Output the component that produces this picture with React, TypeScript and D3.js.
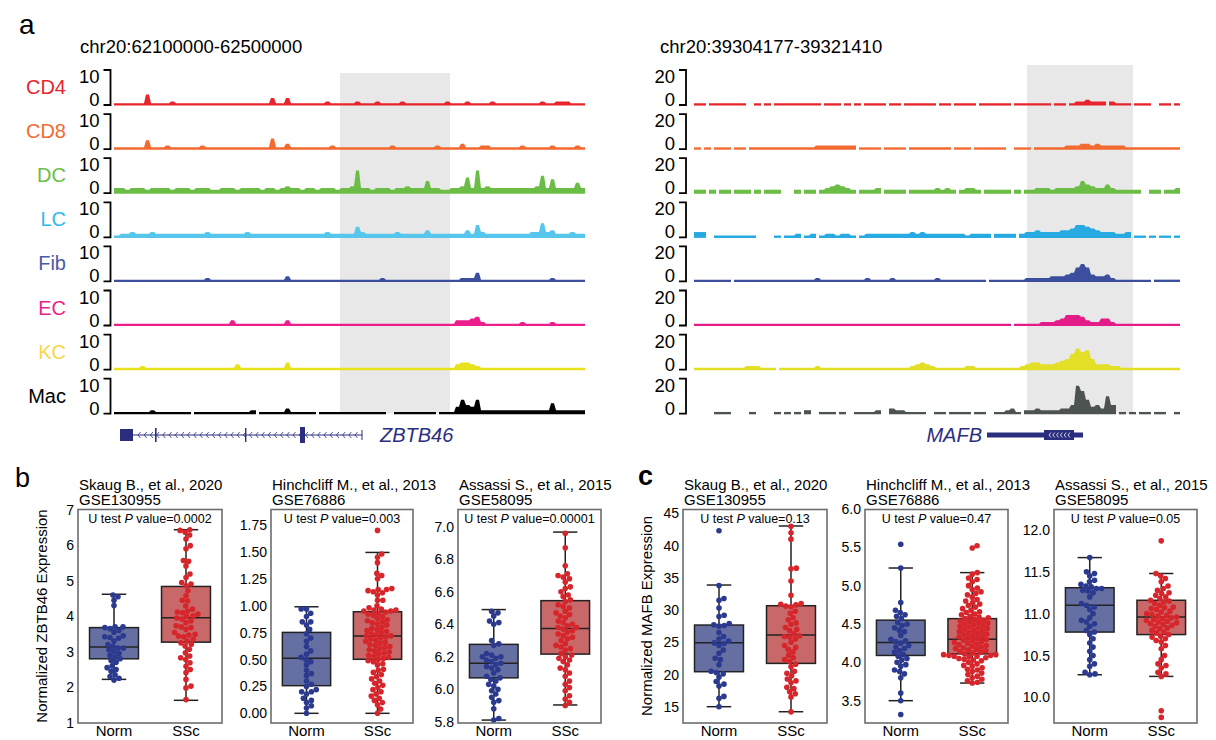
import * as d3 from 'd3';
import React from 'react';

const FONT = '"Liberation Sans", Arial, sans-serif';
const NAVY = '#2b2e7f';

// ---------- panel a : coverage tracks ----------
const cellTypes = ['CD4', 'CD8', 'DC', 'LC', 'Fib', 'EC', 'KC', 'Mac'];
const labelColors = ['#e8242c', '#f26a30', '#6cbd45', '#2fb8ea', '#4b5aa8', '#ec1e8c', '#f7d748', '#000000'];
const zbtbColors = ['#e8242c', '#f26a30', '#6cbd45', '#56c6ec', '#3c4f9e', '#ec1e8c', '#e8e21e', '#000000'];
const mafbColors = ['#e8242c', '#f26a30', '#6cbd45', '#27aae1', '#3b4f9e', '#e31c8a', '#e3de26', '#4d5351'];

// one char per bin, level 0..20 of the track max (base 36), space = no data
const zbtbTracks = [
  '1111116111' + '1211111111' + '1111111111' + '1411411111' + '1121111121' + '1121111211' + '1111112111' + '2111121111' + '1111121122' + '2111',
  '1111115111' + '2111111211' + '1111111111' + '1611311111' + '1112111111' + '1111121111' + '1111211113' + '1112211111' + '1211111211' + '1121',
  '3323332333' + '3233323332' + '2333233332' + '3323433233' + '23332334d3' + '3233323343' + '3373322334' + '93d3433333' + '33334a3833' + '3363',
  '1223222322' + '2222222232' + '2222223222' + '2222222222' + '2232222263' + '2222223222' + '2242222222' + '4273222222' + '2223383422' + '2322',
  '1111111111' + '1111111121' + '1111111111' + '1111311111' + '1111111111' + '1112111111' + '1111111112' + '2251111111' + '1111111211' + '1111',
  '1111111111' + '1111111111' + '1113111111' + '1111311111' + '1111111111' + '1111111111' + '1111111133' + '3452111111' + '1211111211' + '1111',
  '1111121111' + '1111111111' + '1111311111' + '1111411111' + '1111111111' + '1111111111' + '1111111134' + '4321111111' + '1111111111' + '1111',
  '1111111211' + '11111 1111' + '11111112 1' + '1111311111' + ' 111111111' + '1111  1111' + '1111 11148' + '5482222222' + '2222222622' + '2222',
];
const mafbTracks = [
  '11 1111111' + '  1 1 1111' + '11111 111 ' + '1 1 1111 1' + '1 111111 1' + '1 1111 111' + '111 111111' + '1 11 12232' + '22 2111 11' + '1  11 1',
  '1 1 111 11' + ' 111111111' + '1111222222' + '22 1111 11' + '11 1111111' + '1 111 1111' + '11  111 11' + '1111222332' + '3222221111' + '1111111',
  '22 2 22 22' + '2 2 222   ' + '2 22 23454' + '32 2223 22' + '22 2222232' + '32 2332 22' + '222 2 2233' + '3233334754' + '335322222 ' + ' 22 223',
  '33  111111' + '11    1 11' + '2 12 12212' + '21 1222222' + '2223232222' + '222212222 ' + '2222 23343' + '3334457765' + '4333223 11' + ' 1 11 1',
  '1111111 11' + '1111111111' + '1111211111' + '1111211112' + '1111111121' + '11111111 1' + '1111112222' + '2333458a84' + '3342111111' + '1 11111',
  '1111111111' + '1111111111' + '1111111111' + '1111111111' + '1111111111' + '1111111111' + '111 111112' + '2234666532' + '2442111111' + '1111111',
  '1111111111' + '222111 111' + '1111211111' + '1111111111' + '1112343211' + '1111221111' + '1111123443' + '334569cab6' + '3332211111' + '1111111',
  '    111   ' + ' 1    1 1 ' + '1 2  111 1' + '  11112  3' + '221111  11' + ' 1111 11  ' + '11231 2232' + '222335gd84' + '53a5 1 1 1' + '1 11  1',
];
const zbtbMax = '10';
const mafbMax = '20';

// ---------- panels b, c : box plots ----------
const groups = ['Norm', 'SSc'];

const skaugZNorm = [4.6, 4.55, 4.45, 4.3, 3.7, 3.7, 3.68, 3.65, 3.6, 3.55, 3.45, 3.42, 3.4, 3.38, 3.3, 3.2, 3.15, 3.1, 3.1, 3.05, 3.0, 2.95, 2.9, 2.85, 2.8, 2.75, 2.7, 2.6, 2.55, 2.5, 2.45, 2.35, 2.3, 2.25, 2.2];
const skaugZSsc = [6.44, 6.42, 6.37, 6.29, 6.18, 5.99, 5.9, 5.57, 5.55, 5.42, 5.19, 5.09, 4.95, 4.91, 4.86, 4.72, 4.58, 4.45, 4.43, 4.29, 4.2, 4.15, 4.12, 4.1, 4.06, 4.01, 4.0, 3.95, 3.92, 3.87, 3.82, 3.73, 3.7, 3.68, 3.63, 3.54, 3.49, 3.47, 3.44, 3.42, 3.35, 3.3, 3.25, 3.21, 3.16, 3.07, 2.97, 2.88, 2.83, 2.78, 2.69, 2.59, 2.5, 2.41, 2.22, 2.03, 1.98, 1.65];
const skaugZBox = [[2.22, 2.8, 3.13, 3.68, 4.62], [1.63, 3.27, 3.96, 4.84, 6.44]];

const hinchZNorm = [0.97, 0.97, 0.93, 0.9, 0.85, 0.85, 0.82, 0.78, 0.74, 0.7, 0.67, 0.62, 0.58, 0.55, 0.52, 0.5, 0.48, 0.45, 0.4, 0.37, 0.35, 0.3, 0.27, 0.25, 0.22, 0.2, 0.2, 0.18, 0.14, 0.12, 0.1, 0.07, 0.05, 0.0];
const hinchZSsc = [1.7, 1.48, 1.45, 1.4, 1.3, 1.28, 1.25, 1.16, 1.15, 1.15, 1.14, 1.13, 1.12, 1.1, 1.05, 1.05, 1.0, 0.98, 0.97, 0.96, 0.96, 0.95, 0.95, 0.94, 0.93, 0.92, 0.91, 0.9, 0.88, 0.87, 0.86, 0.85, 0.84, 0.83, 0.82, 0.8, 0.79, 0.78, 0.77, 0.76, 0.75, 0.74, 0.73, 0.72, 0.72, 0.71, 0.7, 0.69, 0.68, 0.67, 0.66, 0.65, 0.64, 0.63, 0.62, 0.61, 0.6, 0.59, 0.58, 0.57, 0.56, 0.55, 0.54, 0.53, 0.52, 0.51, 0.5, 0.49, 0.48, 0.46, 0.45, 0.41, 0.4, 0.38, 0.36, 0.34, 0.32, 0.3, 0.28, 0.26, 0.24, 0.22, 0.2, 0.18, 0.16, 0.14, 0.12, 0.1, 0.08, 0.04, 0.0];
const hinchZBox = [[0.0, 0.257, 0.511, 0.752, 0.99], [0.0, 0.502, 0.718, 0.944, 1.495]];

const assassiZNorm = [6.48, 6.47, 6.45, 6.42, 6.41, 6.4, 6.3, 6.28, 6.27, 6.22, 6.21, 6.2, 6.2, 6.19, 6.18, 6.17, 6.16, 6.15, 6.14, 6.13, 6.12, 6.1, 6.08, 6.07, 6.06, 6.05, 6.03, 6.02, 6.0, 5.99, 5.97, 5.95, 5.93, 5.92, 5.88, 5.82, 5.81];
const assassiZSsc = [6.96, 6.87, 6.76, 6.71, 6.7, 6.69, 6.68, 6.66, 6.63, 6.62, 6.6, 6.58, 6.57, 6.55, 6.54, 6.52, 6.51, 6.5, 6.48, 6.47, 6.46, 6.45, 6.44, 6.42, 6.41, 6.4, 6.39, 6.38, 6.38, 6.37, 6.36, 6.35, 6.34, 6.33, 6.32, 6.31, 6.3, 6.28, 6.27, 6.26, 6.25, 6.24, 6.22, 6.21, 6.2, 6.19, 6.18, 6.17, 6.15, 6.13, 6.12, 6.1, 6.08, 6.05, 6.03, 6.01, 5.99, 5.96, 5.94, 5.92, 5.9];
const assassiZBox = [[5.81, 6.07, 6.16, 6.276, 6.49], [5.903, 6.216, 6.374, 6.545, 6.967]];

const skaugMNorm = [42.3, 33.8, 31.8, 31.5, 30.3, 29.2, 29.0, 27.9, 27.7, 27.6, 27.5, 26.5, 25.9, 25.5, 25.2, 24.9, 24.8, 24.5, 23.8, 23.3, 22.5, 22.3, 21.5, 20.5, 20.3, 20.1, 19.6, 18.9, 18.5, 18.2, 16.6, 16.3, 15.0];
const skaugMSsc = [43.0, 42.0, 41.0, 36.5, 36.4, 34.5, 32.3, 31.0, 30.9, 30.8, 30.6, 30.5, 29.8, 29.5, 28.8, 28.5, 28.0, 27.8, 27.3, 27.0, 26.8, 26.3, 26.0, 25.9, 25.8, 25.5, 25.0, 24.5, 24.2, 23.9, 23.5, 23.0, 22.6, 22.3, 22.0, 21.6, 21.2, 20.5, 20.2, 19.8, 19.3, 19.0, 18.7, 18.0, 17.8, 17.3, 17.0, 16.5, 14.2];
const skaugMBox = [[15.0, 20.43, 24.93, 27.67, 33.88], [14.22, 21.72, 26.12, 30.67, 43.04]];

const hinchMNorm = [5.54, 5.23, 4.78, 4.68, 4.65, 4.62, 4.6, 4.57, 4.52, 4.5, 4.48, 4.45, 4.42, 4.4, 4.35, 4.3, 4.28, 4.27, 4.25, 4.22, 4.2, 4.18, 4.15, 4.13, 4.1, 4.08, 4.05, 4.03, 4.0, 3.97, 3.95, 3.9, 3.88, 3.85, 3.8, 3.6, 3.5, 3.32];
const hinchMSsc = [5.52, 5.49, 5.17, 5.15, 5.1, 5.08, 5.05, 5.0, 4.97, 4.95, 4.92, 4.9, 4.88, 4.85, 4.82, 4.8, 4.78, 4.76, 4.74, 4.72, 4.7, 4.68, 4.66, 4.65, 4.63, 4.62, 4.6, 4.59, 4.58, 4.57, 4.56, 4.55, 4.54, 4.53, 4.52, 4.51, 4.5, 4.49, 4.48, 4.47, 4.46, 4.45, 4.44, 4.43, 4.42, 4.41, 4.4, 4.39, 4.38, 4.37, 4.36, 4.35, 4.34, 4.33, 4.32, 4.31, 4.3, 4.29, 4.28, 4.27, 4.26, 4.25, 4.24, 4.23, 4.22, 4.21, 4.2, 4.19, 4.18, 4.17, 4.16, 4.15, 4.14, 4.13, 4.12, 4.11, 4.1, 4.1, 4.09, 4.09, 4.08, 4.08, 4.07, 4.06, 4.05, 4.04, 4.03, 4.02, 4.0, 3.98, 3.96, 3.95, 3.93, 3.91, 3.9, 3.88, 3.86, 3.84, 3.82, 3.8, 3.78, 3.76, 3.74, 3.73];
const hinchMBox = [[3.5, 4.09, 4.26, 4.55, 5.23], [3.73, 4.11, 4.3, 4.57, 5.17]];

const assassiMNorm = [11.67, 11.5, 11.48, 11.45, 11.4, 11.38, 11.35, 11.33, 11.32, 11.3, 11.3, 11.28, 11.27, 11.25, 11.2, 11.12, 11.1, 11.08, 11.05, 11.0, 10.95, 10.92, 10.9, 10.88, 10.85, 10.8, 10.78, 10.75, 10.7, 10.65, 10.6, 10.55, 10.5, 10.45, 10.4, 10.37, 10.3, 10.28, 10.27];
const assassiMSsc = [11.87, 11.48, 11.45, 11.42, 11.38, 11.33, 11.3, 11.28, 11.25, 11.24, 11.22, 11.2, 11.18, 11.16, 11.15, 11.14, 11.12, 11.1, 11.08, 11.07, 11.06, 11.05, 11.03, 11.02, 11.0, 10.99, 10.98, 10.97, 10.96, 10.95, 10.94, 10.93, 10.92, 10.91, 10.9, 10.89, 10.88, 10.87, 10.86, 10.85, 10.83, 10.82, 10.8, 10.78, 10.77, 10.75, 10.73, 10.72, 10.7, 10.68, 10.66, 10.62, 10.58, 10.5, 10.45, 10.4, 10.38, 10.35, 10.3, 10.28, 10.25, 9.84, 9.76];
const assassiMBox = [[10.27, 10.78, 11.1, 11.31, 11.67], [10.25, 10.75, 10.96, 11.16, 11.48]];

const dotColors = ['#2b3a8f', '#d7262b'];
const boxFills = ['#666fa2', '#c86869'];

// swarm layout: place each point as close to the centre as it can go
function swarm(vals: number[], y: any, cx: number, r: number) {
  const d = r * 1.9;
  const placed: { x: number; y: number }[] = [];
  [...vals].sort((a, b) => a - b).forEach(v => {
    const py = y(v);
    const near = placed.filter(p => Math.abs(p.y - py) < d);
    const cands = [0];
    near.forEach(p => {
      const dx = Math.sqrt(d * d - (p.y - py) ** 2);
      cands.push(p.x + dx, p.x - dx);
    });
    cands.sort((a, b) => Math.abs(a) - Math.abs(b));
    const ok = cands.find(c => near.every(p => (p.x - c) ** 2 + (p.y - py) ** 2 >= d * d - 0.01));
    placed.push({ x: ok ?? 0, y: py });
  });
  return placed.map(p => ({ cx: cx + p.x, cy: p.y }));
}

function Track({ data, x0, x1, base, color }: any) {
  const lv = data.split('').map((c: string) => (c === ' ' ? null : parseInt(c, 36)));
  const x = d3.scaleLinear().domain([0, lv.length]).range([x0, x1]);
  const y = d3.scaleLinear().domain([0, 20]).range([base, base - 35]);
  const runs: [number, number][][] = [];
  let cur: [number, number][] | null = null;
  lv.forEach((v: number | null, i: number) => {
    if (v === null) { cur = null; return; }
    if (!cur) { cur = [[x(i) - 1, v]]; runs.push(cur); }
    cur.push([x(i + 0.2), v], [x(i + 0.8), v]);
    if (i === lv.length - 1 || lv[i + 1] === null) cur.push([Math.min(x(i + 1) + 1, x1), v]);
  });
  const area = d3.area<[number, number]>().x(d => d[0]).y0(base + 0.6).y1(d => y(d[1]));
  return <g>{runs.map((r, k) => <path key={k} d={area(r) || ''} fill={color} />)}</g>;
}

function TrackPanel({ tracks, colors, x0, x1, tickX, maxLabel, title, titleX, shade, shadeTop, labels }: any) {
  return (
    <g>
      <text x={titleX} y={53} fontSize={18.5}>{title}</text>
      <rect x={shade[0]} y={shadeTop} width={shade[1] - shade[0]} height={413.5 - shadeTop} fill="#e8e8e8" />
      {tracks.map((t: string, i: number) => {
        const base = 105 + i * 44.1;
        const top = base - 35;
        return (
          <g key={i}>
            {labels && <text x={66} y={top + 24} textAnchor="end" fontSize={20} fill={labelColors[i]}>{cellTypes[i]}</text>}
            <text x={tickX - 11} y={top + 13} textAnchor="end" fontSize={18.5}>{maxLabel}</text>
            <text x={tickX - 11} y={base + 1} textAnchor="end" fontSize={18.5}>0</text>
            <path d={`M${tickX - 7},${top}H${tickX}V${base}H${tickX - 7}`} fill="none" stroke="#000" strokeWidth={1.8} />
            <Track data={t} x0={x0} x1={x1} base={base} color={colors[i]} />
          </g>
        );
      })}
    </g>
  );
}

function BoxPanel({ x0, x1, domain, ticks, fmt, title, gse, pval, box, vals, ylabel }: any) {
  const y = d3.scaleLinear().domain(domain).range([723, 509.5]);
  const xb = d3.scalePoint().domain(groups).range([x0, x1]).padding(0.5);
  const bw = ((x1 - x0) / 2) * 0.68;
  return (
    <g>
      <text x={x0 + 1} y={490} fontSize={15}>{title}</text>
      <text x={x0 + 1} y={505} fontSize={15}>{gse}</text>
      {ticks.map((t: number) => (
        <text key={t} x={x0 - 4} y={y(t)} dy="0.36em" textAnchor="end" fontSize={14}>{d3.format(fmt)(t)}</text>
      ))}
      {ylabel && (
        <text transform={`translate(${x0 - 31},616) rotate(-90)`} textAnchor="middle" fontSize={15}>{ylabel}</text>
      )}
      {groups.map((g, gi) => {
        const cx = xb(g) as number;
        const [lo, q1, med, q3, hi] = box[gi];
        return (
          <g key={g}>
            <line x1={cx} x2={cx} y1={y(hi)} y2={y(q3)} stroke="#222" strokeWidth={1.5} />
            <line x1={cx} x2={cx} y1={y(q1)} y2={y(lo)} stroke="#222" strokeWidth={1.5} />
            <line x1={cx - bw / 4} x2={cx + bw / 4} y1={y(hi)} y2={y(hi)} stroke="#222" strokeWidth={1.5} />
            <line x1={cx - bw / 4} x2={cx + bw / 4} y1={y(lo)} y2={y(lo)} stroke="#222" strokeWidth={1.5} />
            <rect x={cx - bw / 2} y={y(q3)} width={bw} height={y(q1) - y(q3)} fill={boxFills[gi]} stroke="#222" strokeWidth={1.5} />
            <line x1={cx - bw / 2} x2={cx + bw / 2} y1={y(med)} y2={y(med)} stroke="#222" strokeWidth={1.5} />
            {swarm(vals[gi], y, cx, 2.8).map((p, k) => (
              <circle key={k} cx={p.cx} cy={p.cy} r={2.8} fill={dotColors[gi]} />
            ))}
            <text x={cx} y={736} textAnchor="middle" fontSize={15}>{g}</text>
          </g>
        );
      })}
      <rect x={x0} y={509.5} width={x1 - x0} height={213.5} fill="none" stroke="#6d6d6d" strokeWidth={1.6} />
      <text x={(x0 + x1) / 2} y={523} textAnchor="middle" fontSize={12.5}>
        U test <tspan fontStyle="italic">P</tspan> value={pval}
      </text>
    </g>
  );
}

export default function App() {
  const chev = d3.range(138, 358, 6.2);
  const chevM = d3.range(1049, 1071, 3.8);
  return (
    <svg width={1216} height={740} style={{ position: 'absolute', left: 0, top: 0, background: '#fff' }} fontFamily={FONT}>
      <text x={19} y={34} fontSize={28}>a</text>
      <TrackPanel tracks={zbtbTracks} colors={zbtbColors} x0={115} x1={585} tickX={110.5} maxLabel={zbtbMax}
        title="chr20:62100000-62500000" titleX={80} shade={[340, 450]} shadeTop={73} labels />
      <TrackPanel tracks={mafbTracks} colors={mafbColors} x0={695} x1={1180} tickX={686} maxLabel={mafbMax}
        title="chr20:39304177-39321410" titleX={660} shade={[1027, 1133]} shadeTop={65} labels={false} />

      {/* ZBTB46 gene model */}
      <g fill={NAVY} stroke="none">
        <rect x={120} y={429} width={13} height={12} />
        <line x1={133} x2={362} y1={435} y2={435} stroke={NAVY} strokeWidth={1} />
        {chev.map(c => <path key={c} d={`M${c + 2.5},432L${c},435L${c + 2.5},438`} fill="none" stroke={NAVY} strokeWidth={0.8} />)}
        <rect x={155} y={428} width={1.6} height={14} />
        <rect x={245} y={428} width={1.4} height={14} />
        <rect x={300} y={427} width={5} height={16} />
        <rect x={361.5} y={430} width={1} height={10} />
        <text x={380} y={442} fontSize={20} fontStyle="italic">ZBTB46</text>
      </g>
      {/* MAFB gene model */}
      <g fill={NAVY}>
        <text x={982} y={442} fontSize={20} fontStyle="italic" textAnchor="end">MAFB</text>
        <rect x={987} y={432.5} width={57} height={5} />
        <rect x={1044} y={430} width={30} height={10} />
        <rect x={1074} y={432.5} width={9} height={5} />
        {chevM.map(c => <path key={c} d={`M${c + 2},432.5L${c},435L${c + 2},437.5`} fill="none" stroke="#fff" strokeWidth={0.8} />)}
      </g>

      <text x={15} y={487} fontSize={27}>b</text>
      <text x={638} y={485} fontSize={27} fontWeight="bold">c</text>

      <BoxPanel x0={78} x1={222} domain={[0.99, 7.01]} ticks={[1, 2, 3, 4, 5, 6, 7]} fmt="d"
        title="Skaug B., et al., 2020" gse="GSE130955" pval="0.0002" box={skaugZBox} vals={[skaugZNorm, skaugZSsc]}
        ylabel="Normalized ZBTB46 Expression" />
      <BoxPanel x0={271} x1={413} domain={[-0.09, 1.894]} ticks={[0, 0.25, 0.5, 0.75, 1, 1.25, 1.5, 1.75]} fmt=".2f"
        title="Hinchcliff M., et al., 2013" gse="GSE76886" pval="0.003" box={hinchZBox} vals={[hinchZNorm, hinchZSsc]} />
      <BoxPanel x0={458} x1={601} domain={[5.792, 7.106]} ticks={[5.8, 6.0, 6.2, 6.4, 6.6, 6.8, 7.0]} fmt=".1f"
        title="Assassi S., et al., 2015" gse="GSE58095" pval="0.00001" box={assassiZBox} vals={[assassiZNorm, assassiZSsc]} />

      <BoxPanel x0={683} x1={827} domain={[12.47, 45.6]} ticks={[15, 20, 25, 30, 35, 40, 45]} fmt="d"
        title="Skaug B., et al., 2020" gse="GSE130955" pval="0.13" box={skaugMBox} vals={[skaugMNorm, skaugMSsc]}
        ylabel="Normalized MAFB Expression" />
      <BoxPanel x0={865} x1={1008} domain={[3.209, 5.993]} ticks={[3.5, 4.0, 4.5, 5.0, 5.5, 6.0]} fmt=".1f"
        title="Hinchcliff M., et al., 2013" gse="GSE76886" pval="0.47" box={hinchMBox} vals={[hinchMNorm, hinchMSsc]} />
      <BoxPanel x0={1054} x1={1197} domain={[9.693, 12.245]} ticks={[10.0, 10.5, 11.0, 11.5, 12.0]} fmt=".1f"
        title="Assassi S., et al., 2015" gse="GSE58095" pval="0.05" box={assassiMBox} vals={[assassiMNorm, assassiMSsc]} />
    </svg>
  );
}
